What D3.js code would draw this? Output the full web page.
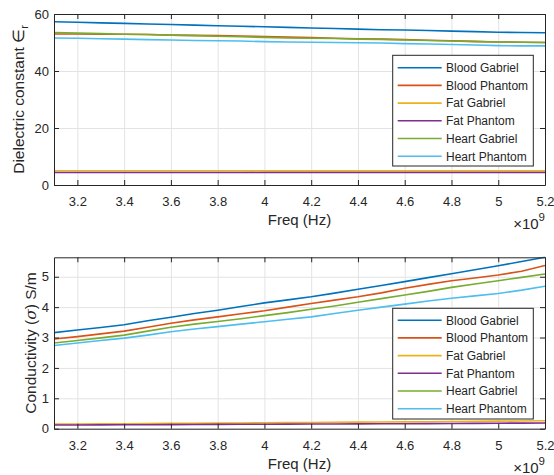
<!DOCTYPE html>
<html>
<head>
<meta charset="utf-8">
<script src="https://cdn.jsdelivr.net/npm/d3@7"></script>
<style>
  html, body { margin: 0; padding: 0; background: #fff; }
  svg { display: block; font-family: "Liberation Sans", Arial, Helvetica, sans-serif; }
</style>
</head>
<body>
<svg id="chart" width="554" height="475"></svg>
<script>
// Frequency samples (GHz; axis shows ×10^9 Hz)
const freqGHz = [3.1, 3.2, 3.3, 3.4, 3.5, 3.6, 3.7, 3.8, 3.9, 4.0, 4.1,
                 4.2, 4.3, 4.4, 4.5, 4.6, 4.7, 4.8, 4.9, 5.0, 5.1, 5.2];

const seriesNames = ["Blood Gabriel", "Blood Phantom", "Fat Gabriel",
                     "Fat Phantom", "Heart Gabriel", "Heart Phantom"];
const seriesColors = ["#0072BD", "#D95319", "#EDB120", "#7E2F8E", "#77AC30", "#4DBEEE"];

// Relative permittivity
const epsBloodGabriel = [57.3, 57.1, 56.9, 56.7, 56.5, 56.3, 56.1, 55.9, 55.7, 55.5, 55.3,
                         55.1, 54.9, 54.7, 54.5, 54.4, 54.2, 54.0, 53.8, 53.6, 53.5, 53.4];
const epsBloodPhantom = [53.0, 53.0, 52.9, 52.9, 52.8, 52.6, 52.5, 52.4, 52.3, 52.1, 51.9,
                         51.7, 51.5, 51.3, 51.2, 51.0, 50.8, 50.6, 50.4, 50.2, 50.1, 50.0];
const epsFatGabriel   = [5.00, 5.00, 5.00, 4.99, 4.99, 4.99, 4.98, 4.98, 4.98, 4.97, 4.97,
                         4.97, 4.96, 4.96, 4.96, 4.96, 4.95, 4.95, 4.95, 4.95, 4.94, 4.94];
const epsFatPhantom   = [4.40, 4.40, 4.40, 4.40, 4.39, 4.39, 4.39, 4.39, 4.39, 4.38, 4.38,
                         4.38, 4.38, 4.38, 4.37, 4.37, 4.37, 4.37, 4.37, 4.36, 4.36, 4.36];
const epsHeartGabriel = [53.5, 53.3, 53.1, 52.9, 52.8, 52.6, 52.4, 52.2, 52.0, 51.8, 51.6,
                         51.5, 51.4, 51.2, 51.1, 50.9, 50.7, 50.5, 50.3, 50.2, 50.1, 50.0];
const epsHeartPhantom = [51.6, 51.5, 51.3, 51.2, 51.0, 50.9, 50.7, 50.6, 50.5, 50.3, 50.2,
                         50.1, 50.0, 49.9, 49.8, 49.6, 49.5, 49.3, 49.1, 48.9, 48.8, 48.8];

// Conductivity (S/m)
const sigBloodGabriel = [3.16, 3.25, 3.33, 3.42, 3.55, 3.67, 3.79, 3.90, 4.02, 4.14, 4.24,
                         4.34, 4.46, 4.59, 4.71, 4.84, 4.97, 5.10, 5.23, 5.36, 5.50, 5.64];
const sigBloodPhantom = [2.95, 3.03, 3.12, 3.21, 3.34, 3.47, 3.58, 3.68, 3.78, 3.88, 4.00,
                         4.12, 4.23, 4.34, 4.47, 4.62, 4.75, 4.87, 4.96, 5.06, 5.18, 5.37];
const sigFatGabriel   = [0.150, 0.155, 0.160, 0.165, 0.170, 0.175, 0.180, 0.185, 0.190, 0.195, 0.200,
                         0.205, 0.210, 0.215, 0.220, 0.225, 0.230, 0.236, 0.242, 0.248, 0.254, 0.260];
const sigFatPhantom   = [0.120, 0.123, 0.126, 0.129, 0.132, 0.135, 0.138, 0.141, 0.144, 0.147, 0.150,
                         0.153, 0.156, 0.159, 0.162, 0.165, 0.168, 0.172, 0.176, 0.180, 0.185, 0.190];
const sigHeartGabriel = [2.82, 2.90, 2.99, 3.08, 3.21, 3.34, 3.44, 3.53, 3.62, 3.72, 3.82,
                         3.93, 4.04, 4.16, 4.28, 4.40, 4.52, 4.65, 4.76, 4.87, 4.98, 5.09];
const sigHeartPhantom = [2.74, 2.82, 2.90, 2.98, 3.08, 3.19, 3.28, 3.36, 3.44, 3.52, 3.60,
                         3.68, 3.79, 3.90, 4.00, 4.10, 4.20, 4.29, 4.37, 4.45, 4.56, 4.69];

// Tick values
const xTicks = [3.2, 3.4, 3.6, 3.8, 4.0, 4.2, 4.4, 4.6, 4.8, 5.0, 5.2];
const epsTicks = [0, 20, 40, 60];
const sigTicks = [0, 1, 2, 3, 4, 5];

const axisColor = "#262626";
const gridColor = "#e3e3e3";
const svg = d3.select("#chart");

function drawPanel(opts) {
  const { left, right, top, bottom, yDomain, yTicks, series, legendTop, legendRow0,
          yLabel, yLabelX } = opts;
  const w = right - left, h = bottom - top;
  const x = d3.scaleLinear().domain([3.1, 5.2]).range([left, right]);
  const y = d3.scaleLinear().domain(yDomain).range([bottom, top]);
  const g = svg.append("g");

  // grid
  const gx = g.append("g").attr("transform", `translate(0,${bottom})`)
    .call(d3.axisBottom(x).tickValues(xTicks).tickSize(-h).tickFormat(""));
  const gy = g.append("g").attr("transform", `translate(${left},0)`)
    .call(d3.axisLeft(y).tickValues(yTicks).tickSize(-w).tickFormat(""));
  [gx, gy].forEach(a => {
    a.select(".domain").remove();
    a.selectAll("line").attr("stroke", gridColor).attr("stroke-width", 1);
  });

  // data lines
  const line = d3.line().x((d, i) => x(freqGHz[i])).y(d => y(d));
  const clipId = "clip" + Math.round(top);
  svg.append("clipPath").attr("id", clipId).append("rect")
    .attr("x", left).attr("y", top - 1).attr("width", w).attr("height", h + 2);
  const lines = g.append("g").attr("clip-path", `url(#${clipId})`);
  series.forEach((s, i) => {
    lines.append("path").datum(s).attr("d", line)
      .attr("fill", "none").attr("stroke", seriesColors[i])
      .attr("stroke-width", 1.6).attr("stroke-linejoin", "round");
  });

  // axes with inward ticks on all four sides
  const fmtX = v => String(+v.toFixed(1));
  const fmtY = v => String(v);
  const axB = g.append("g").attr("transform", `translate(0,${bottom})`)
    .call(d3.axisBottom(x).tickValues(xTicks).tickSizeInner(-5).tickSizeOuter(0)
      .tickPadding(12).tickFormat(fmtX));
  const axT = g.append("g").attr("transform", `translate(0,${top})`)
    .call(d3.axisTop(x).tickValues(xTicks).tickSizeInner(-5).tickSizeOuter(0).tickFormat(""));
  const axL = g.append("g").attr("transform", `translate(${left},0)`)
    .call(d3.axisLeft(y).tickValues(yTicks).tickSizeInner(-5).tickSizeOuter(0)
      .tickPadding(5).tickFormat(fmtY));
  const axR = g.append("g").attr("transform", `translate(${right},0)`)
    .call(d3.axisRight(y).tickValues(yTicks).tickSizeInner(-5).tickSizeOuter(0).tickFormat(""));
  [axB, axT, axL, axR].forEach(a => {
    a.select(".domain").attr("stroke", axisColor).attr("stroke-width", 1);
    a.selectAll(".tick line").attr("stroke", axisColor);
    a.selectAll("text").attr("fill", axisColor)
      .style("font-size", "13px").style("font-family", "'Liberation Sans', Arial, sans-serif");
  });

  // x label
  g.append("text").attr("x", (left + right) / 2).attr("y", bottom + 40)
    .attr("text-anchor", "middle").attr("fill", axisColor).style("font-size", "15px")
    .text("Freq (Hz)");
  // exponent
  const ex = g.append("text").attr("x", right).attr("y", bottom + 44)
    .attr("text-anchor", "end").attr("fill", axisColor).style("font-size", "15px");
  ex.append("tspan").text("\u00D710");
  ex.append("tspan").attr("dy", -8).style("font-size", "11.5px").text("9");

  // y label
  const yl = g.append("text")
    .attr("transform", `translate(${yLabelX},${(top + bottom) / 2}) rotate(-90)`)
    .attr("text-anchor", "middle").attr("fill", axisColor).style("font-size", "15.5px");
  yLabel(yl);

  // legend
  const lx0 = 392.7, lx1 = 533.3, rowH = 17.7;
  const lg = g.append("g");
  lg.append("rect").attr("x", lx0).attr("y", legendTop)
    .attr("width", lx1 - lx0).attr("height", rowH * 6 + 4.5)
    .attr("fill", "#fff").attr("stroke", axisColor).attr("stroke-width", 1);
  seriesNames.forEach((name, i) => {
    const cy = legendTop + legendRow0 + i * rowH;
    lg.append("line").attr("x1", 397.7).attr("x2", 441.7).attr("y1", cy).attr("y2", cy)
      .attr("stroke", seriesColors[i]).attr("stroke-width", 1.6);
    lg.append("text").attr("x", 446).attr("y", cy + 4.3).attr("fill", axisColor)
      .style("font-size", "12px").text(name);
  });
}

drawPanel({
  left: 54, right: 545, top: 14, bottom: 185,
  yDomain: [0, 60], yTicks: epsTicks,
  series: [epsBloodGabriel, epsBloodPhantom, epsFatGabriel, epsFatPhantom, epsHeartGabriel, epsHeartPhantom],
  legendTop: 55.3, legendRow0: 12.4,
  yLabelX: 23.5,
  yLabel: t => {
    t.append("tspan").text("Dielectric constant \u2208");
    t.append("tspan").attr("dy", 4).style("font-size", "11px").text("r");
  }
});

drawPanel({
  left: 54, right: 545, top: 257.3, bottom: 428.7,
  yDomain: [0, 5.64], yTicks: sigTicks,
  series: [sigBloodGabriel, sigBloodPhantom, sigFatGabriel, sigFatPhantom, sigHeartGabriel, sigHeartPhantom],
  legendTop: 308.3, legendRow0: 11.9,
  yLabelX: 35.5,
  yLabel: t => {
    t.append("tspan").text("Conductivity (");
    t.append("tspan").style("font-style", "italic").style("font-family", "'DejaVu Serif', serif").text("\u03C3");
    t.append("tspan").text(") S/m");
  }
});
</script>
</body>
</html>
